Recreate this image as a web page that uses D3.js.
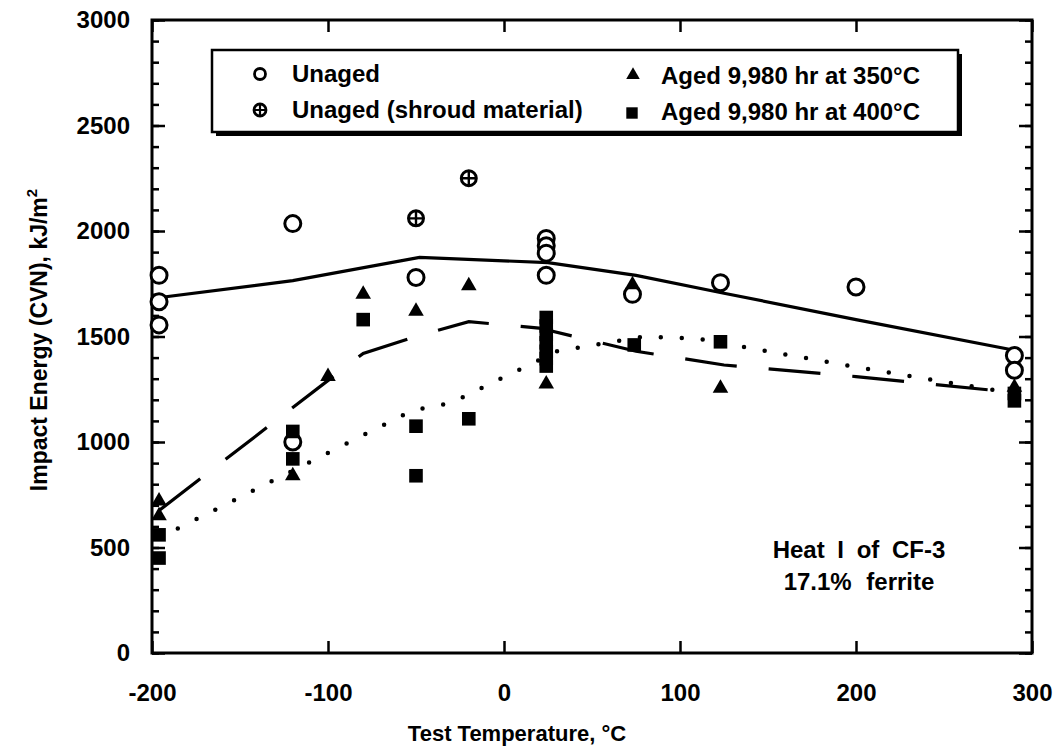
<!DOCTYPE html>
<html>
<head>
<meta charset="utf-8">
<script src="https://cdn.jsdelivr.net/npm/d3@7"></script>
<style>
  body { margin: 0; background: #fff; }
  svg text { font-family: "Liberation Sans", Arial, Helvetica, sans-serif; font-weight: bold; fill: #000; }
</style>
</head>
<body>
<div id="chart"></div>
<script>
// data: [temperature °C, impact energy kJ/m2]
const unaged = [[-196,1790],[-196,1665],[-196,1555],[-120,2035],[-120,1000],[-50,1780],
  [24,1965],[24,1930],[24,1895],[24,1790],[73,1700],[123,1755],[200,1735],[290,1410],[290,1340]];
const shroud = [[-50,2060],[-20,2250]];
const aged350 = [[-196,720],[-196,650],[-120,840],[-100,1310],[-80,1700],[-50,1620],[-20,1740],
  [24,1275],[73,1745],[123,1255],[290,1260]];
const aged400 = [[-196,560],[-196,450],[-120,1050],[-120,920],[-80,1580],[-50,1075],[-50,840],
  [-20,1110],[24,1590],[24,1550],[24,1510],[24,1470],[24,1430],[24,1395],[24,1360],
  [74,1460],[123,1475],[290,1230],[290,1195]];

// trend lines
const unagedLine = [[-200,1680],[-120,1765],[-48,1875],[25,1850],[75,1790],[125,1705],[200,1580],[290,1435]];
const aged350Line = [[-196,675],[-80,1420],[-50,1500],[-20,1570],[20,1540],[75,1430],[125,1365],[200,1310],[290,1235]];
const aged400Line = [[-196,545],[-52,1150],[-30,1185],[30,1430],[80,1500],[110,1490],[200,1355],[290,1230]];

const xTicks = [-200,-100,0,100,200,300];
const yTicks = [0,500,1000,1500,2000,2500,3000];
const legendLabels = ["Unaged","Unaged (shroud material)","Aged 9,980 hr at 350°C","Aged 9,980 hr at 400°C"];

const width = 1063, height = 748;
const svg = d3.select("#chart").append("svg")
  .attr("width", width).attr("height", height);

const x = d3.scaleLinear().domain([-200,300]).range([152,1032]);
const y = d3.scaleLinear().domain([0,3000]).range([653,20]);
const plain = d => String(d);

// ticks (inward)
const tickStyle = g => {
  g.select(".domain").remove();
  g.selectAll(".tick line").attr("stroke","#000").attr("stroke-width",2.5);
};
svg.append("g").attr("transform",`translate(0,${y(0)})`)
  .call(d3.axisBottom(x).tickValues(xTicks).tickSizeInner(-12).tickSizeOuter(0).tickPadding(31)
    .tickFormat(plain))
  .call(tickStyle)
  .call(g => g.selectAll("text").attr("font-size",24).attr("fill","#000"));
svg.append("g").attr("transform",`translate(0,${y(3000)})`)
  .call(d3.axisTop(x).tickValues(xTicks).tickSizeInner(-12).tickSizeOuter(0).tickFormat(""))
  .call(tickStyle);
svg.append("g").attr("transform",`translate(${x(-200)},0)`)
  .call(d3.axisLeft(y).tickValues(yTicks).tickSizeInner(-13).tickSizeOuter(0).tickPadding(22)
    .tickFormat(plain))
  .call(tickStyle)
  .call(g => g.selectAll("text").attr("font-size",24).attr("fill","#000"));
svg.append("g").attr("transform",`translate(${x(-200)},0)`)
  .call(d3.axisLeft(y).ticks(30).tickSizeInner(-7).tickSizeOuter(0).tickFormat(""))
  .call(tickStyle);
svg.append("g").attr("transform",`translate(${x(300)},0)`)
  .call(d3.axisRight(y).tickValues(yTicks).tickSizeInner(-13).tickSizeOuter(0).tickFormat(""))
  .call(tickStyle);
svg.append("g").attr("transform",`translate(${x(300)},0)`)
  .call(d3.axisRight(y).ticks(30).tickSizeInner(-7).tickSizeOuter(0).tickFormat(""))
  .call(tickStyle);

// frame
svg.append("rect")
  .attr("x", x(-200)).attr("y", y(3000))
  .attr("width", x(300)-x(-200)).attr("height", y(0)-y(3000))
  .attr("fill","none").attr("stroke","#000").attr("stroke-width",3);

// axis titles
svg.append("text").attr("x",517).attr("y",741).attr("text-anchor","middle")
  .attr("font-size",22).text("Test Temperature, °C");
const yt = svg.append("text").attr("transform","translate(47,340) rotate(-90)")
  .attr("text-anchor","middle").attr("font-size",23);
yt.append("tspan").text("Impact Energy (CVN), kJ/m");
yt.append("tspan").attr("font-size",15).attr("dy",-10).text("2");

// lines
const line = d3.line().x(d => x(d[0])).y(d => y(d[1]));
svg.append("path").datum(unagedLine).attr("d",line)
  .attr("fill","none").attr("stroke","#000").attr("stroke-width",3.2);
svg.append("path").datum(aged350Line).attr("d",line)
  .attr("fill","none").attr("stroke","#000").attr("stroke-width",3.2)
  .attr("stroke-dasharray","52 32");
svg.append("path").datum(aged400Line).attr("d",line)
  .attr("fill","none").attr("stroke","#000").attr("stroke-width",4.5)
  .attr("stroke-linecap","round").attr("stroke-dasharray","0 21");

// markers
svg.append("g").selectAll("circle").data(unaged).join("circle")
  .attr("cx",d => x(d[0])).attr("cy",d => y(d[1])).attr("r",8)
  .attr("fill","#fff").attr("stroke","#000").attr("stroke-width",3);

const shroudG = svg.append("g").selectAll("g").data(shroud).join("g")
  .attr("transform",d => `translate(${x(d[0])},${y(d[1])})`);
shroudG.append("circle").attr("r",7.5).attr("fill","#fff").attr("stroke","#000").attr("stroke-width",3);
shroudG.append("path").attr("d","M-7,0H7M0,-7V7").attr("stroke","#000").attr("stroke-width",2.4);

const tri = d3.symbol(d3.symbolTriangle, 105);
svg.append("g").selectAll("path").data(aged350).join("path")
  .attr("transform",d => `translate(${x(d[0])},${y(d[1])})`)
  .attr("d",tri).attr("fill","#000");

const sq = d3.symbol(d3.symbolSquare, 185);
svg.append("g").selectAll("path").data(aged400).join("path")
  .attr("transform",d => `translate(${x(d[0])},${y(d[1])})`)
  .attr("d",sq).attr("fill","#000");

// legend
const lg = svg.append("g");
lg.append("rect").attr("x",216).attr("y",54).attr("width",746).attr("height",82).attr("fill","#000");
lg.append("rect").attr("x",212).attr("y",50).attr("width",746).attr("height",82)
  .attr("fill","#fff").attr("stroke","#000").attr("stroke-width",2.5);
lg.append("circle").attr("cx",260).attr("cy",74).attr("r",5.5)
  .attr("fill","#fff").attr("stroke","#000").attr("stroke-width",2.8);
lg.append("circle").attr("cx",260).attr("cy",110).attr("r",6)
  .attr("fill","#fff").attr("stroke","#000").attr("stroke-width",2.8);
lg.append("path").attr("d","M254,110H266M260,104V116").attr("stroke","#000").attr("stroke-width",2.2);
lg.append("path").attr("transform","translate(633,75)").attr("d",d3.symbol(d3.symbolTriangle,80)).attr("fill","#000");
lg.append("path").attr("transform","translate(632,113)").attr("d",d3.symbol(d3.symbolSquare,130)).attr("fill","#000");
const legPos = [[292,82],[292,118],[661,84],[661,120]];
lg.selectAll("text.leg").data(legendLabels).join("text").attr("class","leg")
  .attr("x",(d,i) => legPos[i][0]).attr("y",(d,i) => legPos[i][1])
  .attr("font-size",24).text(d => d);

// annotation
svg.append("text").attr("x",859).attr("y",558).attr("text-anchor","middle")
  .attr("font-size",24).attr("word-spacing",6).text("Heat I of CF-3");
svg.append("text").attr("x",859).attr("y",590).attr("text-anchor","middle")
  .attr("font-size",24).attr("word-spacing",8).text("17.1% ferrite");
</script>
</body>
</html>
